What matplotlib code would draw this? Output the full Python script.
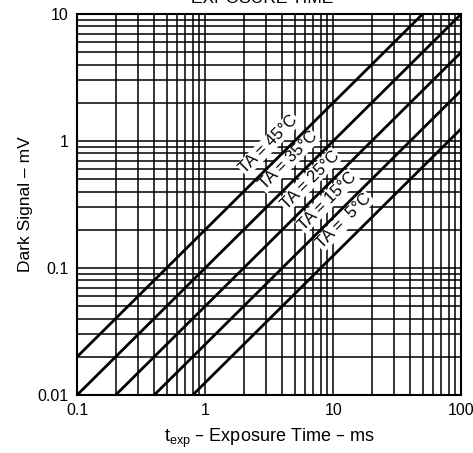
import numpy as np
import matplotlib.pyplot as plt
from matplotlib.ticker import LogLocator, NullFormatter, FixedLocator, FixedFormatter

plt.rcParams['font.family'] = ['Liberation Sans', 'DejaVu Sans']

# dark signal (mV) vs exposure time (ms), one line per temperature
t_exp = [0.1, 100]
temps = ['45', '35', '25', '15', ' 5']
signal_at_1ms = [0.2, 0.1, 0.05, 0.025, 0.0125]
label_pos = [(3.15, 0.95), (4.45, 0.70), (6.6, 0.495), (9.0, 0.338), (12.2, 0.235)]

xticks = [0.1, 1, 10, 100]
xtick_labels = ['0.1', '1', '10', '100']
yticks = [0.01, 0.1, 1, 10]
ytick_labels = ['0.01', '0.1', '1', '10']

fig = plt.figure(figsize=(4.73, 4.53), dpi=100)
ax = fig.add_axes([0.163, 0.128, 0.812, 0.841])
ax.set_xscale('log')
ax.set_yscale('log')
ax.set_xlim(0.1, 100)
ax.set_ylim(0.01, 10)

ax.xaxis.set_major_locator(FixedLocator(xticks))
ax.xaxis.set_major_formatter(FixedFormatter(xtick_labels))
ax.yaxis.set_major_locator(FixedLocator(yticks))
ax.yaxis.set_major_formatter(FixedFormatter(ytick_labels))
ax.xaxis.set_minor_locator(LogLocator(base=10, subs=np.arange(2, 10), numticks=20))
ax.yaxis.set_minor_locator(LogLocator(base=10, subs=np.arange(2, 10), numticks=20))
ax.xaxis.set_minor_formatter(NullFormatter())
ax.yaxis.set_minor_formatter(NullFormatter())
ax.tick_params(which='both', length=0, labelsize=11.5, colors='black')
ax.tick_params(axis='x', pad=6)
ax.tick_params(axis='y', pad=6)

ax.grid(True, which='both', color='black', linewidth=1.1)
for s in ax.spines.values():
    s.set_linewidth(1.5)

for k in signal_at_1ms:
    x = np.array(t_exp)
    ax.plot(x, k * x, color='black', linewidth=2.0, zorder=5)

for temp, (lx, ly) in zip(temps, label_pos):
    ax.text(lx, ly, f'TA = {temp}°C', rotation=45, ha='center', va='center',
            fontsize=12, zorder=4,
            bbox=dict(facecolor='white', edgecolor='none', pad=0.6))

ax.set_ylabel('Dark Signal – mV', fontsize=12.5, labelpad=3)
ax.set_xlabel(r'$\mathregular{t_{exp}}$ – Exposure Time – ms', fontsize=13, labelpad=6)

fig.text(0.554, 1.003, 'EXPOSURE TIME', ha='center', va='center', fontsize=12.5)

fig.savefig('out.png', dpi=100)
